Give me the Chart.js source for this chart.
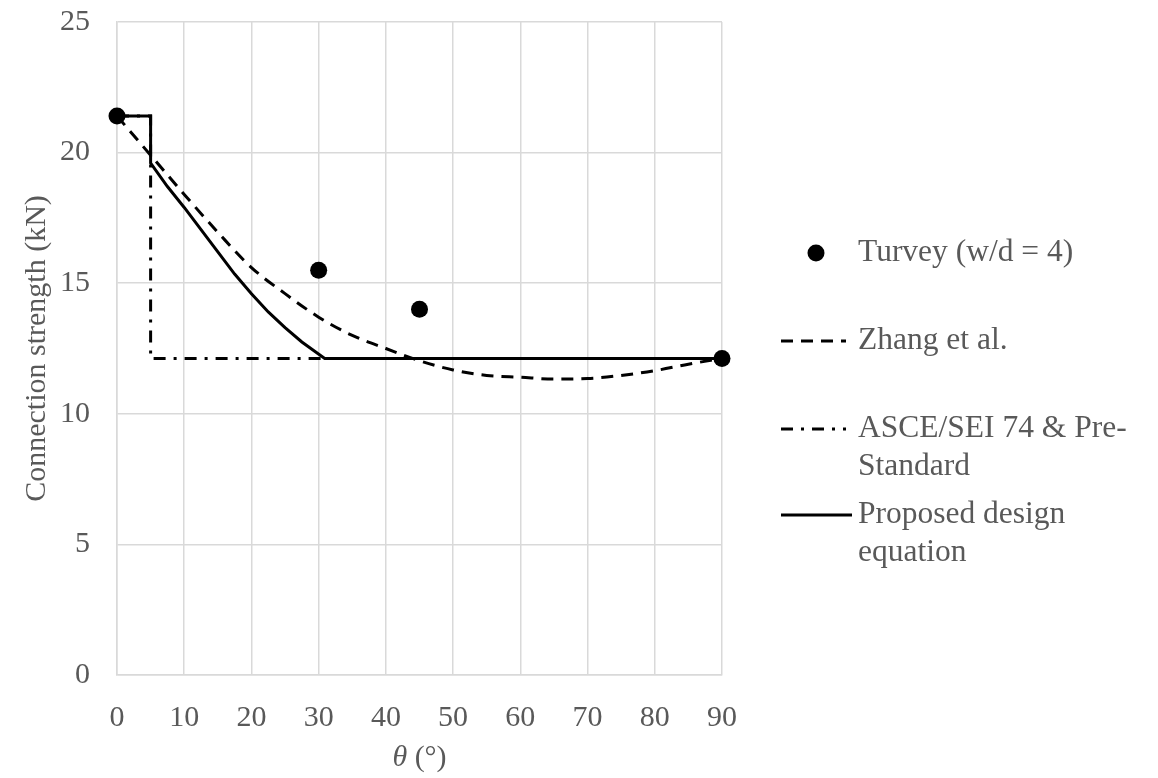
<!DOCTYPE html>
<html>
<head>
<meta charset="utf-8">
<script src="https://cdn.jsdelivr.net/npm/chart.js@4.4.1/dist/chart.umd.min.js"></script>
<style>
  html, body { margin: 0; padding: 0; background: #fff; }
  #wrap { width: 1158px; height: 778px; }
</style>
</head>
<body>
<div id="wrap"><canvas id="strengthChart" width="1158" height="778"></canvas></div>
<script>
// values (theta in degrees, strength in kN)
const turveyX = [0, 30, 45, 90];
const turveyY = [21.4, 15.5, 14.0, 12.12];

const zhangX = [0, 5, 10, 15, 20, 25, 30, 35, 40, 45, 50, 55, 60, 65, 70, 75, 80, 85, 90];
const zhangY = [21.4, 19.9, 18.4, 16.95, 15.6, 14.6, 13.7, 13.0, 12.5, 12.03, 11.68, 11.47, 11.4, 11.33, 11.35, 11.47, 11.65, 11.9, 12.12];

const asceX = [0, 5, 5, 90];
const asceY = [21.4, 21.4, 12.12, 12.12];

const proposedX = [0, 5, 5, 7.5, 10, 12.5, 15, 17.5, 20, 22.5, 25, 27.5, 30.9, 90];
const proposedY = [21.4, 21.4, 19.6, 18.7, 17.9, 17.05, 16.2, 15.35, 14.6, 13.9, 13.3, 12.75, 12.12, 12.12];

const xTicks = [0, 10, 20, 30, 40, 50, 60, 70, 80, 90];
const yTicks = [0, 5, 10, 15, 20, 25];

const seriesNames = ['Turvey (w/d = 4)', 'Zhang et al.', 'ASCE/SEI 74 & Pre-\nStandard', 'Proposed design\nequation'];

function pts(xs, ys) {
  return xs.map((x, i) => ({ x: x, y: ys[i] }));
}

const textGrey = '#595959';
const gridGrey = '#d9d9d9';
const serif = "'Liberation Serif', 'Times New Roman', serif";

// legend on the right + x axis title with italic theta
const sideLegend = {
  id: 'sideLegend',
  afterDraw(chart) {
    const ctx = chart.ctx;
    const rows = [253, 341, 429, 515];
    const kinds = ['dot', [12, 8], [12, 8, 3, 8], []];
    const ends = [846, 846, 846, 852];
    ctx.save();
    ctx.font = '31.5px ' + serif;
    ctx.fillStyle = textGrey;
    ctx.textBaseline = 'middle';
    seriesNames.forEach((name, i) => {
      const y = rows[i];
      if (kinds[i] === 'dot') {
        ctx.beginPath();
        ctx.arc(816, y, 8.5, 0, Math.PI * 2);
        ctx.fillStyle = '#000';
        ctx.fill();
      } else {
        ctx.beginPath();
        ctx.setLineDash(kinds[i]);
        ctx.strokeStyle = '#000';
        ctx.lineWidth = 3;
        ctx.moveTo(781, y);
        ctx.lineTo(ends[i], y);
        ctx.stroke();
        ctx.setLineDash([]);
      }
      ctx.fillStyle = textGrey;
      name.split('\n').forEach((line, j) => {
        ctx.fillText(line, 858, y + j * 38);
      });
    });

    // x title: "θ (°)"
    const a = chart.chartArea;
    const cx = (a.left + a.right) / 2;
    ctx.font = 'italic 30px ' + serif;
    const w1 = ctx.measureText('\u03b8').width;
    ctx.font = '30px ' + serif;
    const w2 = ctx.measureText(' (\u00b0)').width;
    let x0 = cx - (w1 + w2) / 2;
    ctx.textAlign = 'left';
    ctx.font = 'italic 30px ' + serif;
    ctx.fillText('\u03b8', x0, 758);
    ctx.font = '30px ' + serif;
    ctx.fillText(' (\u00b0)', x0 + w1, 758);
    ctx.restore();
  }
};

const ctx = document.getElementById('strengthChart').getContext('2d');
const strengthChart = new Chart(ctx, {
  type: 'scatter',
  data: {
    datasets: [{
      label: seriesNames[0],
      data: pts(turveyX, turveyY),
      showLine: false,
      pointRadius: 8.5,
      pointBackgroundColor: '#000',
      pointBorderWidth: 0,
      clip: false,
      order: 0
    }, {
      label: seriesNames[1],
      data: pts(zhangX, zhangY),
      showLine: true,
      borderColor: '#000',
      borderWidth: 3,
      borderDash: [12, 8],
      pointRadius: 0,
      cubicInterpolationMode: 'monotone',
      order: 2
    }, {
      label: seriesNames[2],
      data: pts(asceX, asceY),
      showLine: true,
      borderColor: '#000',
      borderWidth: 3,
      borderDash: [12, 8, 3, 8],
      pointRadius: 0,
      tension: 0,
      order: 3
    }, {
      label: seriesNames[3],
      data: pts(proposedX, proposedY),
      showLine: true,
      borderColor: '#000',
      borderWidth: 3,
      pointRadius: 0,
      tension: 0,
      order: 1
    }]
  },
  options: {
    responsive: false,
    animation: false,
    layout: { padding: { top: 0, right: 436, left: 0, bottom: 0 } },
    plugins: {
      legend: { display: false },
      tooltip: { enabled: false }
    },
    scales: {
      x: {
        type: 'linear',
        min: 0,
        max: 90,
        afterFit: s => { s.height = 103; },
        afterBuildTicks: s => { s.ticks = xTicks.map(v => ({ value: v })); },
        grid: { color: gridGrey, lineWidth: 1.5, drawTicks: false },
        border: { color: gridGrey, width: 1.5 },
        ticks: {
          padding: 25,
          color: textGrey,
          font: { family: serif, size: 30 },
          maxRotation: 0
        }
      },
      y: {
        type: 'linear',
        min: 0,
        max: 25,
        afterFit: s => { s.width = 117; s.paddingTop = 22; s.paddingBottom = 0; },
        afterBuildTicks: s => { s.ticks = yTicks.map(v => ({ value: v })); },
        grid: { color: gridGrey, lineWidth: 1.5, drawTicks: false },
        border: { color: gridGrey, width: 1.5 },
        ticks: {
          padding: 27,
          color: textGrey,
          font: { family: serif, size: 30 }
        },
        title: {
          display: true,
          text: 'Connection strength (kN)',
          color: textGrey,
          font: { family: serif, size: 30 },
          padding: { top: 19, bottom: 0 }
        }
      }
    }
  },
  plugins: [sideLegend]
});
</script>
</body>
</html>
